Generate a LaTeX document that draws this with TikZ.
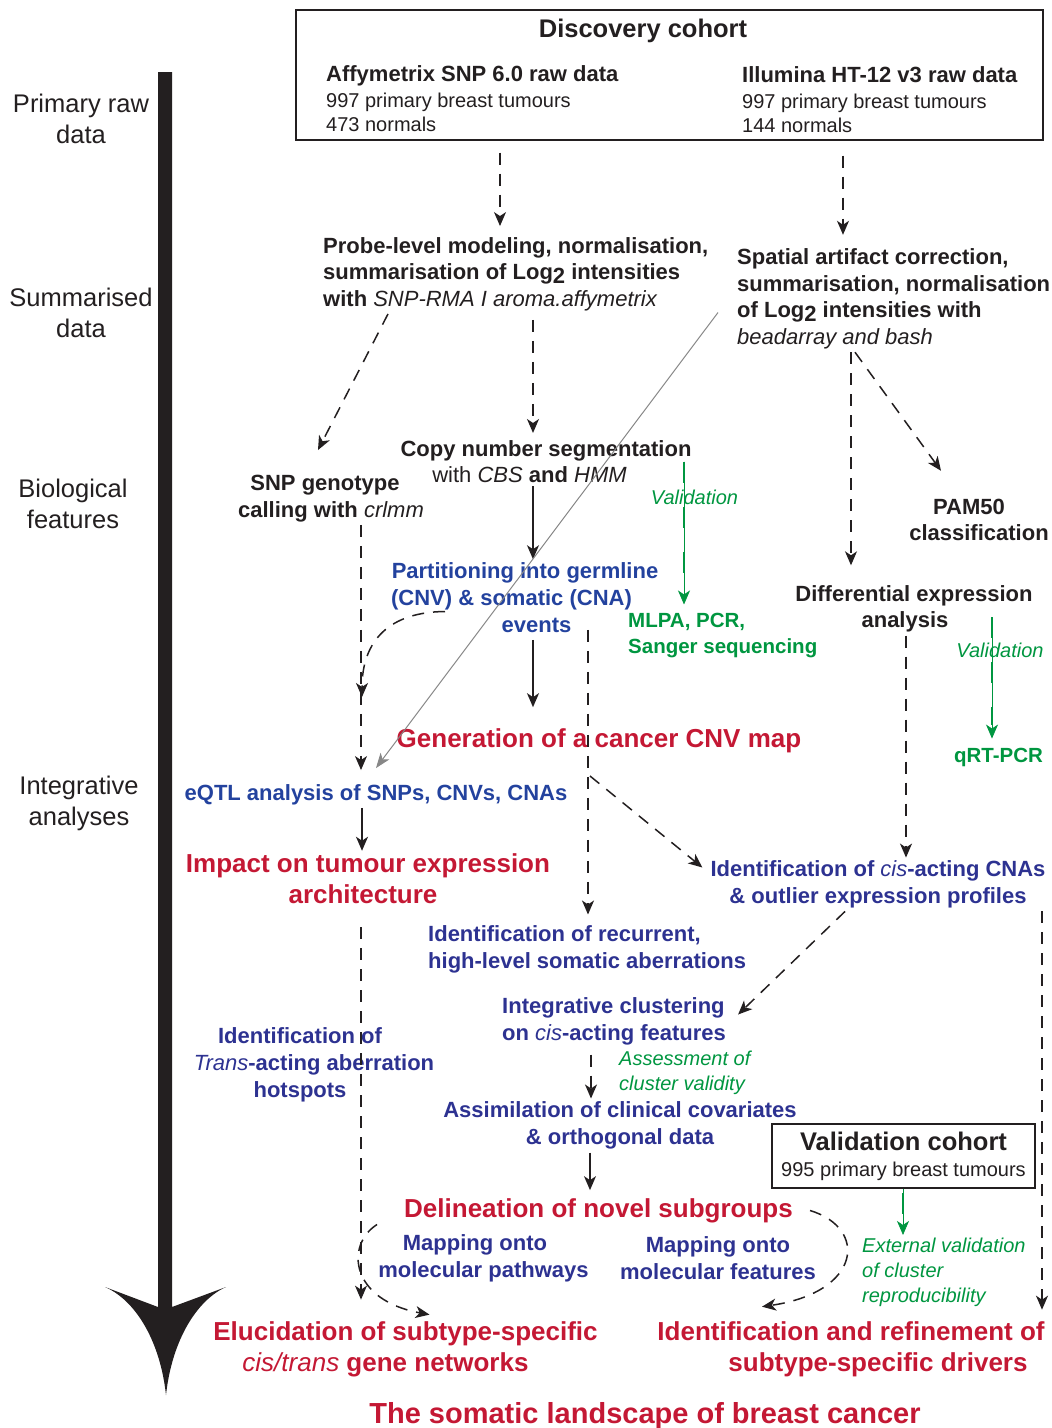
\documentclass[tikz,border=0pt]{standalone}
\usepackage{fontspec}
\setmainfont{Liberation Sans}
\usetikzlibrary{arrows.meta}
\definecolor{ink}{RGB}{35,31,32}
\definecolor{hired}{RGB}{196,24,52}
\definecolor{featblue}{RGB}{45,50,145}
\definecolor{partblue}{RGB}{35,66,158}
\definecolor{valgreen}{RGB}{0,150,64}
\definecolor{linkgray}{RGB}{135,135,135}
\newcommand{\lowtwo}{\raisebox{-3.5pt}{2}}
\begin{document}
\begin{tikzpicture}[x=1pt,y=-1pt,>={Stealth[length=14pt,width=12pt,inset=4pt]},
  every node/.style={inner sep=3pt,text=ink},
  level/.style={font=\fontsize{25.5}{31}\selectfont,align=center,yshift=-2pt},
  stepbk/.style={font=\bfseries\fontsize{22}{26.5}\selectfont,align=center,yshift=-2.5pt},
  feat/.style={font=\bfseries\fontsize{22}{27}\selectfont,align=center,text=featblue,yshift=-2.5pt},
  outc/.style={font=\bfseries\fontsize{26}{31}\selectfont,align=center,text=hired,yshift=-2.5pt},
  valtxt/.style={font=\itshape\fontsize{20}{25}\selectfont,align=left,text=valgreen,yshift=-2pt},
  valres/.style={font=\bfseries\fontsize{20.5}{26}\selectfont,align=left,text=valgreen,yshift=-2pt},
  cohort/.style={draw=ink,line width=1.4pt},
  dsh/.style={draw=ink,line width=1.5pt,dash pattern=on 12pt off 9pt},
  sol/.style={draw=ink,line width=1.5pt},
  vline/.style={draw=valgreen,line width=0.7pt,->},
  vdash/.style={draw=valgreen,line width=1.7pt,dash pattern=on 21pt off 24pt,shorten >=14pt}]
  \useasboundingbox (0,0) rectangle (1052,1428);
  \fill[ink] (158,72) -- (158,1307) -- (105,1287) .. controls (135,1300) and (160,1340) .. (166,1395)
    .. controls (172,1340) and (197,1300) .. (226,1287) -- (172,1307) -- (172,72) -- cycle;
  \node[level] (prim) at (81,117) {Primary raw\\data};
  \node[level] (summ) at (81,311) {Summarised\\data};
  \node[level] (bio) at (73,502) {Biological\\features};
  \node[level] (integ) at (79,801) {Integrative\\analyses};

  \node[cohort,minimum width=747pt,minimum height=130pt] (disc) at (669.5,75) {};
  \node[font=\bfseries\fontsize{25.5}{30}\selectfont] (dtit) at (643,31) {Discovery cohort};
  \node[anchor=west,align=left,font=\fontsize{20}{24.5}\selectfont] (affy) at (323,98.5)
    {{\bfseries\fontsize{22}{26}\selectfont Affymetrix SNP 6.0 raw data}\\[1.5pt]997 primary breast tumours\\473 normals};
  \node[anchor=west,align=left,font=\fontsize{20}{24.5}\selectfont] (illu) at (739,99.5)
    {{\bfseries\fontsize{22}{26}\selectfont Illumina HT-12 v3 raw data}\\[1.5pt]997 primary breast tumours\\144 normals};

  \node[stepbk,align=left,anchor=west] (pl) at (320,271.5)
    {Probe-level modeling, normalisation,\\summarisation of Log\lowtwo{} intensities\\with {\mdseries\itshape SNP-RMA I aroma.affymetrix}};
  \node[stepbk,align=left,anchor=west] (sp) at (734,296.5)
    {Spatial artifact correction,\\summarisation, normalisation\\of Log\lowtwo{} intensities with\\{\mdseries\itshape beadarray and bash}};
  \node[stepbk] (snp) at (331,496) {SNP genotype\hspace*{12pt}\\calling with {\mdseries\itshape crlmm}};
  \node[stepbk] (cns) at (546,459) {Copy number segmentation\\{\mdseries with \itshape CBS} and {\mdseries\itshape HMM}\hspace*{33pt}};
  \node[feat,text=partblue] (part) at (525,595) {Partitioning into germline\\(CNV) \& somatic (CNA)\kern27pt\\\hspace*{23pt}events};
  \node[valtxt] (va) at (694.5,495) {Validation};
  \node[valres,anchor=west] (mlpa) at (625,634) {MLPA, PCR,\\Sanger sequencing};
  \node[stepbk] (pam) at (979,517.5) {PAM50\hspace*{20pt}\\classification};
  \node[stepbk] (dea) at (914,606.5) {Differential expression\\analysis\hspace*{18pt}};
  \node[valtxt] (vb) at (1000,648) {Validation};
  \node[valres] (qrt) at (998.5,755) {qRT-PCR};

  \node[outc] (gen) at (599,738) {Generation of a cancer CNV map};
  \node[feat,text=partblue] (eqtl) at (376,792) {eQTL analysis of SNPs, CNVs, CNAs};
  \node[outc] (imp) at (368,876.5) {Impact on tumour expression\\architecture\hspace*{10pt}};
  \node[feat] (cis) at (878,882) {Identification of {\mdseries\itshape cis}-acting CNAs\\\& outlier expression profiles};
  \node[feat,align=left,anchor=west] (rec) at (425,947) {Identification of recurrent,\\high-level somatic aberrations};
  \node[feat,align=left,anchor=west] (ic) at (499,1019) {Integrative clustering\\on {\mdseries\itshape cis}-acting features};
  \node[valtxt,anchor=west] (asv) at (616,1070.5) {Assessment of\\cluster validity};
  \node[feat] (asm) at (620,1123) {Assimilation of clinical covariates\\\& orthogonal data};
  \node[feat] (tr) at (314,1062.5) {Identification of\hspace*{28pt}\\{\mdseries\itshape Trans}-acting aberration\\hotspots\hspace*{28pt}};
  \node[cohort,minimum width=263pt,minimum height=64pt,align=center,font=\fontsize{20}{25}\selectfont] (vc) at (903.5,1156)
    {{\bfseries\fontsize{25.5}{30}\selectfont Validation cohort}\\[1pt]995 primary breast tumours};
  \node[outc] (del) at (598.5,1208) {Delineation of novel subgroups};
  \node[valtxt,anchor=west] (ext) at (859,1270.5) {External validation\\of cluster\\reproducibility};
  \node[feat] (mp1) at (483.5,1256) {Mapping onto\hspace*{17pt}\\molecular pathways};
  \node[feat] (mp2) at (718,1256) {Mapping onto\\molecular features};
  \node[outc] (elu) at (405.5,1347) {Elucidation of subtype-specific\\{\mdseries\itshape cis/trans} gene networks\hspace*{40pt}};
  \node[outc] (drv) at (851,1347) {Identification and refinement of\\\hspace*{54pt}subtype-specific drivers};
  \node[outc,font=\bfseries\fontsize{29}{34}\selectfont] (ttl) at (645,1413) {The somatic landscape of breast cancer};

  \coordinate (jn) at (362,697);
  \coordinate (br) at (590,776);
  \draw[dsh,->,shorten <=12pt,shorten >=8pt] (disc.south -| 500,0) -- (pl.north -| 500,0);
  \draw[dsh,->,shorten <=15pt,shorten >=11pt] (disc.south -| 843,0) -- (sp.north -| 843,0);
  \draw[dsh,->] (pl.south -| 388,0) -- ([xshift=-13pt,yshift=22pt]snp.north);
  \draw[dsh,->,shorten <=6pt,shorten >=4pt] (pl.south -| 533,0) -- (cns.north -| 533,0);
  \draw[sol,->] (cns.south -| 533,0) -- (part.north -| 533,0);
  \draw[dsh,->,shorten >=17pt] (sp.south -| 851,0) -- (dea.north -| 851,0);
  \draw[dsh,->] (sp.south -| 855,0) -- ([xshift=-38pt,yshift=25pt]pam.north);
  \draw[linkgray,line width=1pt,-{Stealth[length=15pt,width=11pt,inset=4pt]}] ([xshift=-16pt,yshift=-13.5pt]sp.west) -- ([yshift=13pt]eqtl.north);
  \draw[dsh,->,shorten >=11pt] (snp.south -| 361,0) -- (eqtl.north -| 361,0);
  \draw[dsh,->] ([xshift=-80pt,yshift=-14pt]part.center) .. controls (390,612) and (362,640) .. (jn);
  \draw[sol,->,shorten <=4pt,shorten >=18pt] (part.south -| 533,0) -- (gen.north -| 533,0);
  \draw[sol,->] (eqtl.south -| 362,0) -- (imp.north -| 362,0);
  \draw[dsh,->,shorten <=-6pt,shorten >=8pt] (part.south -| 588,0) -- (rec.north -| 588,0);
  \draw[dsh,->] (br) -- ([xshift=-5pt,yshift=17pt]cis.west);
  \draw[dsh,->] (dea.south -| 906,0) -- (cis.north -| 906,0);
  \draw[dsh,->,shorten >=9pt] (cis.south -| 1042,0) -- (drv.north -| 1042,0);
  \draw[dsh,->] (cis.south -| 845,0) -- ([xshift=9pt,yshift=7pt]ic.east);
  \draw[dsh,->,shorten <=6pt] (ic.south -| 591,0) -- (asm.north -| 591,0);
  \draw[sol,->,shorten >=5pt] (asm.south -| 590,0) -- (del.north -| 590,0);
  \draw[dsh,->,shorten <=20pt,shorten >=19pt] (imp.south -| 361,0) -- (elu.north -| 361,0);
  \draw[dsh,->] ([xshift=-24pt,yshift=-14pt]del.west) .. controls (345,1245) and (350,1300) .. ([xshift=24pt,yshift=4pt]elu.north);
  \draw[dsh,->] ([xshift=14pt]del.east) .. controls (868,1228) and (862,1292) .. ([xshift=-89pt,yshift=12pt]drv.north);

  \draw[vline,shorten >=6pt] (cns.east -| 684,0) -- (mlpa.north -| 684,0);
  \draw[vdash,shorten >=20pt] (cns.east -| 684,0) -- (mlpa.north -| 684,0);
  \draw[vline,shorten <=8pt,shorten >=6pt] (dea.east -| 992,0) -- (qrt.north -| 992,0);
  \draw[vdash,shorten <=8pt,shorten >=20pt] (dea.east -| 992,0) -- (qrt.north -| 992,0);
  \draw[vline] (vc.south -| 903,0) -- (ext.north -| 903,0);
  \draw[vdash,shorten <=4pt] (vc.south -| 903,0) -- (ext.north -| 903,0);
\end{tikzpicture}
\end{document}
